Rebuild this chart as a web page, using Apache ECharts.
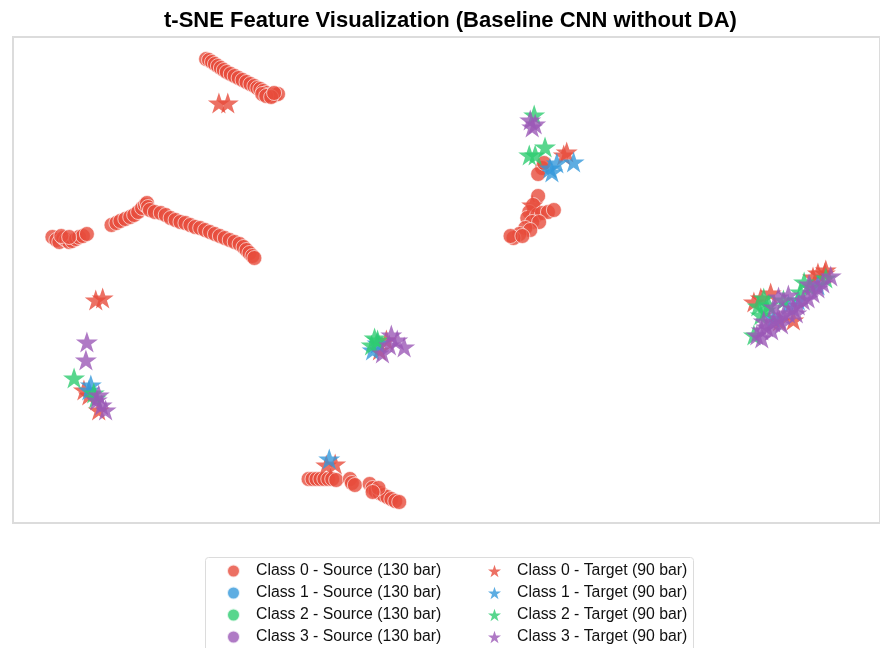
<!DOCTYPE html>
<html>
<head>
<meta charset="utf-8">
<script src="https://cdn.jsdelivr.net/npm/echarts@6/dist/echarts.min.js"></script>
<style>
  html, body { margin: 0; padding: 0; background: #fff; }
  #chart { width: 880px; height: 648px; }
</style>
</head>
<body>
<div id="chart"></div>
<script>
// t-SNE coordinates, [x, y]
const source0 = [
  [-24.4, 22.1], [-24.1, 22.0], [-23.8, 21.8], [-23.5, 21.6], [-23.2, 21.4], [-22.9, 21.2],
  [-22.6, 21.0], [-22.3, 20.8], [-21.9, 20.6], [-21.5, 20.4], [-21.1, 20.2], [-20.7, 20.0],
  [-20.3, 19.8], [-19.9, 19.6], [-19.5, 19.4], [-19.2, 19.2], [-18.9, 19.1], [-18.6, 18.9],
  [-18.3, 18.7], [-18.0, 18.5], [-17.7, 18.4], [-17.4, 18.5], [-17.1, 18.6], [-18.7, 18.6],
  [-18.3, 18.4], [-17.8, 18.3], [-17.5, 18.7],
  [-40.0, 4.3], [-39.6, 4.0], [-39.3, 3.8], [-38.9, 4.2], [-38.6, 4.0], [-38.3, 3.8],
  [-38.0, 3.9], [-37.6, 4.1], [-37.3, 4.3], [-36.9, 4.4], [-36.5, 4.6], [-39.1, 4.4], [-38.3, 4.3],
  [-34.0, 5.5], [-33.5, 5.7], [-33.1, 5.9], [-32.6, 6.1], [-32.1, 6.3], [-31.7, 6.5],
  [-31.3, 6.8], [-30.9, 7.2], [-30.6, 7.5], [-30.4, 7.7], [-30.3, 7.3], [-30.1, 7.0],
  [-29.6, 6.8], [-29.0, 6.7], [-28.5, 6.5], [-28.0, 6.2], [-27.5, 6.0], [-27.0, 5.8],
  [-26.5, 5.7], [-26.0, 5.5], [-25.5, 5.3], [-25.0, 5.2], [-24.5, 5.0], [-24.0, 4.8],
  [-23.5, 4.6], [-23.0, 4.4], [-22.5, 4.2], [-22.0, 4.0], [-21.5, 3.8], [-21.0, 3.6],
  [-20.6, 3.3], [-20.3, 3.0], [-20.0, 2.7], [-19.7, 2.4], [-19.5, 2.2],
  [-14.0, -19.9], [-13.6, -19.9], [-13.2, -19.9], [-12.8, -19.9], [-12.4, -19.9], [-12.0, -19.9],
  [-11.6, -19.9], [-11.2, -20.0], [-9.8, -19.9], [-9.6, -20.3], [-9.3, -20.5], [-7.8, -20.4],
  [-7.5, -20.8], [-7.2, -21.1], [-6.8, -21.3], [-6.4, -21.5], [-6.0, -21.7], [-5.6, -21.9],
  [-5.2, -22.1], [-4.8, -22.2], [-6.9, -20.8], [-7.5, -21.2],
  [9.3, 8.4], [8.8, 7.5], [8.4, 6.8], [8.2, 6.2], [9.2, 6.5], [9.7, 6.7], [10.3, 6.8],
  [10.9, 7.0], [8.7, 5.8], [9.4, 5.8], [8.0, 5.2], [8.5, 5.0], [7.4, 4.6], [6.8, 4.2],
  [6.5, 4.4], [7.7, 4.4], [9.7, 11.2], [9.3, 10.6], [9.9, 11.7]
];
const source1 = [];
const source2 = [];
const source3 = [];

const target0 = [
  [-23.1, 17.7], [-22.2, 17.7], [-35.6, -2.0], [-34.9, -1.8],
  [12.2, 12.8], [11.9, 12.5], [8.7, 7.5],
  [-36.8, -11.0], [-36.3, -11.5], [-35.3, -13.0],
  [-6.1, -6.0], [-6.8, -7.0], [-12.2, -18.5], [-11.3, -18.4],
  [31.2, -2.2], [32.9, -1.3], [37.7, 0.7], [38.4, 0.7], [35.2, -4.0], [37.2, 0.3], [38.5, 1.0],
  [31.9, -1.8], [33.8, -4.1]
];
const target1 = [
  [10.5, 11.2], [11.2, 11.7], [12.9, 11.8], [10.7, 10.8],
  [-36.1, -10.5], [-36.3, -11.0], [-7.5, -7.0], [-7.0, -6.3], [-11.9, -17.9],
  [34.7, -2.5], [33.2, -3.8], [37.7, -0.5], [35.7, -2.0]
];
const target2 = [
  [8.4, 12.5], [9.0, 12.5], [10.0, 13.3], [8.9, 16.5],
  [-37.8, -9.8], [-35.8, -11.3], [-35.6, -11.8],
  [-7.3, -5.8], [-7.6, -6.5], [-7.0, -6.0],
  [32.2, -1.8], [32.7, -2.5], [31.9, -3.5], [31.2, -5.5], [35.9, -1.2], [36.9, -0.7], [38.5, 0.2], [34.2, -2.0],
  [32.4, -3.0], [31.6, -2.6], [36.3, -0.2]
];
const target3 = [
  [8.5, 16.0], [9.0, 15.6], [8.7, 15.3],
  [-36.5, -6.2], [-36.6, -8.0], [-35.5, -12.0], [-35.0, -12.5], [-34.6, -13.0], [-35.3, -11.5],
  [-5.6, -5.5], [-4.3, -6.7], [-6.5, -7.3], [-5.8, -6.5], [-5.0, -6.0],
  [31.5, -5.5], [32.0, -5.0], [32.5, -4.7], [33.2, -4.2], [33.7, -3.8], [34.2, -3.5],
  [34.7, -3.3], [35.2, -2.8], [35.7, -2.5], [36.2, -2.0], [36.7, -1.8], [37.2, -1.3],
  [37.7, -0.8], [38.2, -0.3], [39.0, 0.4], [33.7, -1.7], [33.2, -2.7], [34.7, -1.5],
  [32.2, -4.1], [33.0, -5.0], [34.0, -4.4], [35.5, -3.3], [32.0, -5.8], [36.8, -0.4]
];

const colors = ["#e74c3c", "#3498db", "#2ecc71", "#9b59b6"];
const sourceNames = [0, 1, 2, 3].map((c) => `Class ${c} - Source (130 bar)`);
const targetNames = [0, 1, 2, 3].map((c) => `Class ${c} - Target (90 bar)`);
const sources = [source0, source1, source2, source3];
const targets = [target0, target1, target2, target3];

const STAR =
  "path://M50,0 L61.8,35.3 L98.9,35.3 L68.8,57.1 L80.2,92.7 L50,70.9 L19.8,92.7 L31.2,57.1 L1.1,35.3 L38.2,35.3 Z";

const series = [];
sources.forEach((data, i) => {
  series.push({
    name: sourceNames[i],
    type: "scatter",
    symbol: "circle",
    symbolSize: 15,
    itemStyle: { color: colors[i], opacity: 0.8, borderColor: "#fff", borderWidth: 0.8 },
    data: data,
  });
});
targets.forEach((data, i) => {
  series.push({
    name: targetNames[i],
    type: "scatter",
    symbol: STAR,
    symbolKeepAspect: true,
    symbolSize: 22,
    itemStyle: { color: colors[i], opacity: 0.8 },
    data: data,
  });
});

const legendBase = {
  orient: "vertical",
  top: 558,
  height: 120,
  itemWidth: 13,
  itemHeight: 13,
  itemGap: 6,
  textStyle: {
    fontFamily: "Liberation Sans",
    fontSize: 15.8,
    color: "#111",
    padding: [0, 0, 0, 11],
  },
};

let chart = echarts.init(document.getElementById("chart"));
chart.setOption({
  animation: false,
  title: {
    left: 159,
    top: 5,
    text: "t-SNE Feature Visualization (Baseline CNN without DA)",
    textStyle: {
      fontFamily: "Liberation Sans",
      fontSize: 22,
      fontWeight: "bold",
      color: "#000",
    },
  },
  grid: {
    show: true,
    left: 13,
    top: 37,
    width: 880,
    height: 486,
    borderColor: "#dcdcdc",
    borderWidth: 2,
  },
  xAxis: { type: "value", min: -44, max: 44, show: false },
  yAxis: { type: "value", min: -24.3, max: 24.3, show: false },
  legend: [
    Object.assign({}, legendBase, { left: 221, data: sourceNames, icon: "circle" }),
    Object.assign({}, legendBase, { left: 483, data: targetNames, icon: STAR }),
  ],
  graphic: [
    {
      type: "rect",
      shape: { x: 205.5, y: 557.5, width: 488, height: 100, r: 3 },
      style: { fill: "none", stroke: "#dcdcdc", lineWidth: 1 },
      silent: true,
    },
  ],
  series: series,
});
</script>
</body>
</html>
